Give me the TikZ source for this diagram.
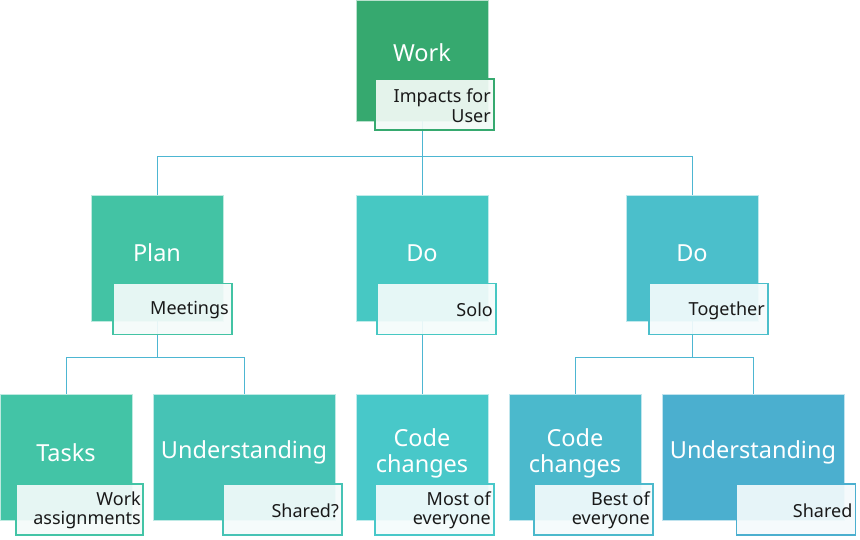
\documentclass[tikz,border=0pt]{standalone}
\usepackage{fontspec}
\setmainfont{Noto Sans}
\definecolor{cWork}{HTML}{36A96F}
\definecolor{cPlan}{HTML}{43C3A4}
\definecolor{cDoA}{HTML}{47C8C3}
\definecolor{cDoB}{HTML}{4BBFCB}
\definecolor{cTasks}{HTML}{43C4A6}
\definecolor{cUndA}{HTML}{46C3B5}
\definecolor{cCodeA}{HTML}{48C8C9}
\definecolor{cCodeB}{HTML}{4BB9CC}
\definecolor{cUndB}{HTML}{4BAFCF}
\definecolor{cLine}{HTML}{4DB6D2}
\tikzset{
  box/.style={draw=white!65!#1, fill=#1, line width=0.8pt, minimum height=126pt, minimum width=132pt, inner sep=0pt},
  btext/.style={text=white, font=\fontsize{23.5}{26.5}\selectfont, align=center, inner sep=0pt},
  lab/.style={draw=#1, line width=1.1pt, fill=#1!6!white, fill opacity=0.92,
     minimum width=119pt, minimum height=51pt, inner sep=0pt},
  labtext/.style={anchor=east, align=right, inner sep=0pt, text=black!90, font=\fontsize{18}{19.5}\selectfont},
  conn/.style={draw=cLine, line width=1pt},
}
\begin{document}
\begin{tikzpicture}[x=1pt,y=-1pt]
\useasboundingbox (0,0) rectangle (860,540);
% boxes
\node[box=cWork, minimum height=121pt] (work) at (422,60.5) {};
\node[box=cPlan] (plan) at (157,258) {};
\node[box=cDoA] (doa) at (422,258) {};
\node[box=cDoB] (dob) at (692,258) {};
\node[box=cTasks] (tasks) at (66,457) {};
\node[box=cUndA, minimum width=182pt] (unda) at (244,457) {};
\node[box=cCodeA] (codea) at (422,457) {};
\node[box=cCodeB] (codeb) at (575,457) {};
\node[box=cUndB, minimum width=182pt] (undb) at (753,457) {};
% connectors
\coordinate (busa) at (422,157);
\coordinate (busb) at (157,357);
\coordinate (busc) at (692,357);
\draw[conn] (work.south) -- (busa) -| (plan.north);
\draw[conn] (busa) -| (dob.north);
\draw[conn] (busa) -- (doa.north);
\draw[conn] (plan.south) -- (busb) -| (tasks.north);
\draw[conn] (busb) -| (unda.north);
\draw[conn] (doa.south) -- (codea.north);
\draw[conn] (dob.south) -- (busc) -| (codeb.north);
\draw[conn] (busc) -| (undb.north);
% box texts
\node[btext] (workT) at (422,53) {Work};
\node[btext] (planT) at (157,253) {Plan};
\node[btext] (doaT) at (422,253) {Do};
\node[btext] (dobT) at (692,253) {Do};
\node[btext] (tasksT) at (66,452.5) {Tasks};
\node[btext] (undaT) at (244,452.5) {Understanding};
\node[btext] (codeaT) at (422,453.5) {Code\\changes};
\node[btext] (codebT) at (575,453.5) {Code\\changes};
\node[btext] (undbT) at (753,452.5) {Understanding};
% labels
\node[lab=cWork] (workL) at (434.5,104.5) {};
\node[labtext] (workLT) at (491,105.5) {Impacts for\\User};
\node[lab=cPlan] (planL) at (172.5,309) {};
\node[labtext] (planLT) at (229,310.5) {Meetings};
\node[lab=cDoA] (doaL) at (436.5,309) {};
\node[labtext] (doaLT) at (493,310) {Solo};
\node[lab=cDoB] (dobL) at (708.5,309) {};
\node[labtext] (dobLT) at (765,310.5) {Together};
\node[lab=cTasks, minimum width=127pt] (tasksL) at (79.5,509.5) {};
\node[labtext] (tasksLT) at (141,510.5) {Work\\assignments};
\node[lab=cUndA] (undaL) at (282.5,509.5) {};
\node[labtext] (undaLT) at (339,510.5) {Shared?};
\node[lab=cCodeA] (codeaL) at (434.5,509.5) {};
\node[labtext] (codeaLT) at (491,510.5) {Most of\\everyone};
\node[lab=cCodeB] (codebL) at (593.5,509.5) {};
\node[labtext] (codebLT) at (650,510.5) {Best of\\everyone};
\node[lab=cUndB] (undbL) at (796,509.5) {};
\node[labtext] (undbLT) at (852.5,510.5) {Shared};
\end{tikzpicture}
\end{document}
